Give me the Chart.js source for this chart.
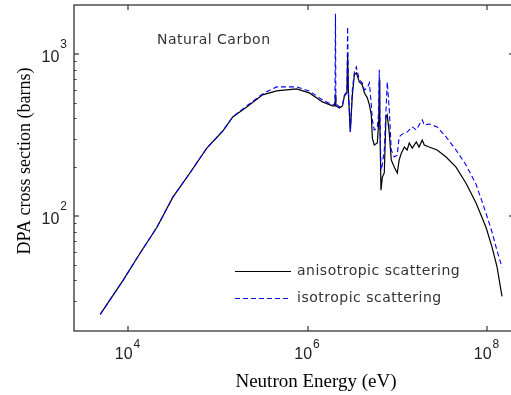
<!DOCTYPE html>
<html>
<head>
<meta charset="utf-8">
<script src="https://cdn.jsdelivr.net/npm/chart.js@4/dist/chart.umd.min.js"></script>
<style>
  html, body { margin: 0; padding: 0; background: #fff; overflow: hidden; }
  #wrap { width: 516px; height: 395px; }
</style>
</head>
<body>
<div id="wrap"><canvas id="c" width="516" height="395"></canvas></div>
<script>
// ---- data ----
const energy = [4900, 8800, 13600, 21000, 31600, 48900, 75500, 113700, 146800, 210000,
  316000, 452000, 755000, 1.05e6, 1.47e6, 1.90e6, 2.02e6, 2.05e6, 2.07e6, 2.27e6,
  2.45e6, 2.58e6, 2.75e6, 2.80e6, 2.86e6, 3.0e6, 3.16e6, 3.33e6, 3.50e6, 3.78e6,
  4.08e6, 4.30e6, 4.64e6, 4.89e6, 5.14e6, 5.28e6, 5.55e6, 6.0e6, 6.23e6, 6.31e6,
  6.39e6, 6.59e6, 6.81e6, 7.17e6, 7.49e6, 7.74e6, 8.15e6, 8.58e6, 9.26e6, 1.0e7,
  1.05e7, 1.11e7, 1.20e7, 1.29e7, 1.36e7, 1.47e7, 1.63e7, 1.75e7, 1.90e7, 2.0e7,
  2.27e7, 2.78e7, 3.50e7, 4.52e7, 5.84e7, 7.55e7, 9.75e7, 1.14e8, 1.29e8, 1.47e8];

const anisotropic = [24.7, 40.0, 58.8, 85.1, 130.5, 184, 262, 334, 408, 470,
  558, 590, 608, 574, 505, 477, 477, 558, 477, 463,
  477, 550, 574, 986, 558, 329, 558, 742, 763, 671,
  643, 574, 535, 484, 420, 302, 274, 282, 391, 691,
  391, 144, 173, 184, 408, 420, 325, 221, 200, 184,
  221, 244, 266, 255, 282, 262, 286, 266, 294, 274,
  266, 255, 231, 200, 159, 120, 85.1, 64.0, 48.9, 31.9];

const isotropic = [24.7, 40.0, 58.8, 85.1, 130.5, 184, 262, 334, 408, 477,
  566, 625, 625, 590, 519, 484, 491, 1768, 491, 470,
  484, 558, 582, 1469, 599, 329, 599, 774, 831, 691,
  662, 599, 616, 662, 484, 391, 339, 349, 450, 796,
  450, 192, 206, 255, 450, 671, 450, 255, 231, 237,
  307, 316, 325, 329, 339, 354, 339, 364, 391, 364,
  369, 354, 307, 255, 206, 157, 104, 79.3, 61.4, 48.2];

const seriesLabels = ['anisotropic scattering', 'isotropic scattering'];
const xTickExponents = [4, 6, 8];
const yTickExponents = [2, 3];
const yMinorTicks = [30, 40, 50, 60, 70, 80, 90, 200, 300, 400, 500, 600, 700, 800, 900];
const xTitle = 'Neutron Energy (eV)';
const yTitle = 'DPA cross section (barns)';
const noteText = 'Natural Carbon';

// ---- build ----
const toPts = (vals) => energy.map((e, i) => ({ x: e, y: vals[i] }));

const decorations = {
  id: 'decorations',
  afterDraw(chart) {
    const { ctx, chartArea: a, scales: { x, y } } = chart;
    ctx.save();
    // frame
    ctx.strokeStyle = '#333';
    ctx.lineWidth = 1.3;
    ctx.strokeRect(a.left, a.top, a.right - a.left, a.bottom - a.top);

    const seg = (x1, y1, x2, y2) => { ctx.beginPath(); ctx.moveTo(x1, y1); ctx.lineTo(x2, y2); ctx.stroke(); };
    ctx.lineWidth = 1.2;
    // x ticks (inward, bottom and top)
    xTickExponents.forEach(ex => {
      const px = Math.round(x.getPixelForValue(Math.pow(10, ex)));
      seg(px, a.bottom, px, a.bottom - 5);
      seg(px, a.top, px, a.top + 5);
    });
    // y major ticks
    yTickExponents.forEach(ex => {
      const py = Math.round(y.getPixelForValue(Math.pow(10, ex)));
      seg(a.left, py, a.left + 5, py);
      seg(a.right, py, a.right - 5, py);
    });
    // y minor ticks
    ctx.lineWidth = 1;
    yMinorTicks.forEach(v => {
      const py = Math.round(y.getPixelForValue(v)) + 0.5;
      seg(a.left, py, a.left + 2.5, py);
      seg(a.right, py, a.right - 2.5, py);
    });

    // tick labels
    ctx.fillStyle = '#222';
    ctx.textBaseline = 'alphabetic';
    xTickExponents.forEach(ex => {
      const px = x.getPixelForValue(Math.pow(10, ex));
      ctx.font = '16px "Liberation Sans", Arial, sans-serif';
      const wb = ctx.measureText('10').width;
      ctx.font = '12px "Liberation Sans", Arial, sans-serif';
      const we = ctx.measureText(String(ex)).width;
      const start = px - (wb + we) / 2 - 1;
      ctx.font = '16px "Liberation Sans", Arial, sans-serif';
      ctx.textAlign = 'left';
      ctx.fillText('10', start, a.bottom + 28);
      ctx.font = '12px "Liberation Sans", Arial, sans-serif';
      ctx.fillText(String(ex), start + wb + 1, a.bottom + 17);
    });
    yTickExponents.forEach(ex => {
      const py = y.getPixelForValue(Math.pow(10, ex));
      ctx.font = '12px "Liberation Sans", Arial, sans-serif';
      ctx.textAlign = 'right';
      ctx.fillText(String(ex), a.left - 7, py - 6);
      const we = ctx.measureText(String(ex)).width;
      ctx.font = '16px "Liberation Sans", Arial, sans-serif';
      ctx.fillText('10', a.left - 8 - we, py + 8);
    });

    // axis titles
    ctx.fillStyle = '#000';
    ctx.font = '19px "Liberation Serif", "Times New Roman", serif';
    ctx.textAlign = 'center';
    ctx.fillText(xTitle, 316, 387);
    ctx.font = '18px "Liberation Serif", "Times New Roman", serif';
    ctx.save();
    ctx.translate(30, 161);
    ctx.rotate(-Math.PI / 2);
    ctx.fillText(yTitle, 0, 0);
    ctx.restore();

    // annotation
    ctx.fillStyle = '#333';
    ctx.font = '14px "DejaVu Sans", sans-serif';
    ctx.letterSpacing = '0.5px';
    ctx.textAlign = 'left';
    ctx.textBaseline = 'middle';
    ctx.fillText(noteText, 157, 40);

    // legend
    chart.data.datasets.forEach((ds, i) => {
      const ly = 271.5 + i * 27;
      ctx.strokeStyle = ds.borderColor;
      ctx.lineWidth = ds.borderWidth;
      ctx.setLineDash(ds.borderDash || []);
      seg(235, ly, 291, ly);
      ctx.setLineDash([]);
      ctx.fillStyle = '#333';
      ctx.fillText(ds.label, 297, ly);
    });
    ctx.restore();
  }
};

new Chart(document.getElementById('c'), {
  type: 'line',
  data: {
    datasets: [
      { label: seriesLabels[0], data: toPts(anisotropic), borderColor: '#000000', borderWidth: 1.2,
        pointRadius: 0, tension: 0, fill: false, order: 1 },
      { label: seriesLabels[1], data: toPts(isotropic), borderColor: '#0000ff', borderWidth: 1.1,
        borderDash: [5, 3], pointRadius: 0, tension: 0, fill: false, order: 0 }
    ]
  },
  options: {
    responsive: false,
    animation: false,
    devicePixelRatio: 1,
    layout: { padding: { left: 74, top: 5, right: 2, bottom: 64 } },
    scales: {
      x: { type: 'logarithmic', min: 2500, max: 2e8, display: false },
      y: { type: 'logarithmic', min: 19.5, max: 2000, display: false }
    },
    plugins: { legend: { display: false }, tooltip: { enabled: false } }
  },
  plugins: [decorations]
});
</script>
</body>
</html>
